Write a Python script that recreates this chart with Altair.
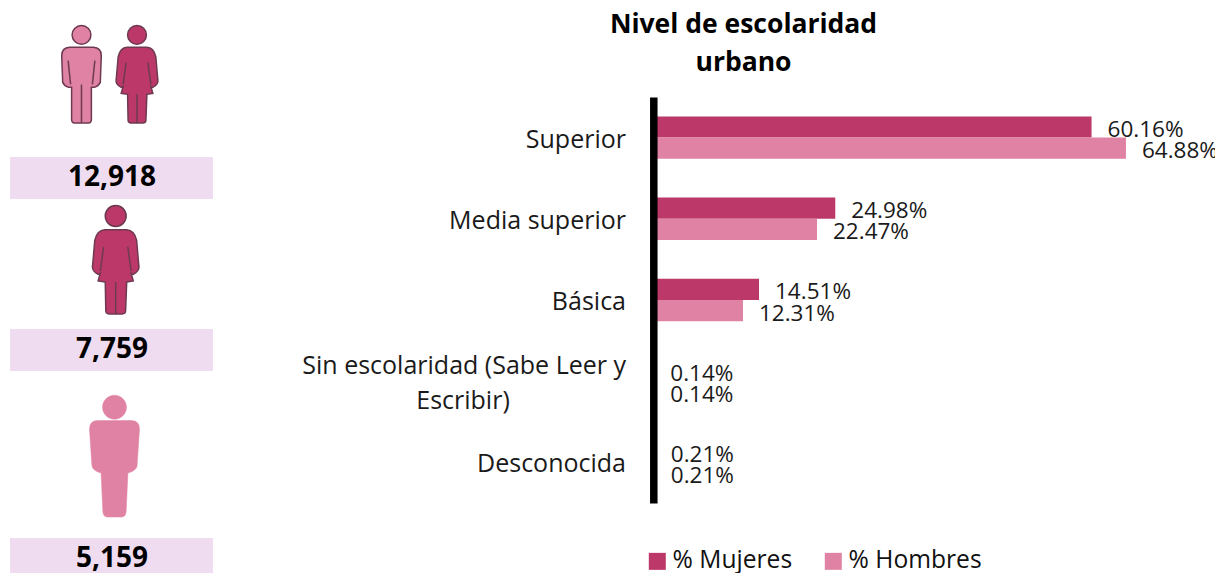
import re
import altair as alt
import pandas as pd

categories = ["Superior", "Media superior", "Básica", "Sin escolaridad (Sabe Leer y Escribir)", "Desconocida"]
mujeres = [60.16, 24.98, 14.51, 0.14, 0.21]
hombres = [64.88, 22.47, 12.31, 0.14, 0.21]
series_names = ["% Mujeres", "% Hombres"]
total_all = 12918
total_mujeres = 7759
total_hombres = 5159

DARK = "#BC3868"
LIGHT = "#E082A3"
BOX = "#F0DCF0"
EDGE = "#6E3A52"
FONT = "Open Sans"

rows = []
for c, m, h in zip(categories, mujeres, hombres):
    rows.append({"cat": c, "serie": series_names[0], "v": m})
    rows.append({"cat": c, "serie": series_names[1], "v": h})
df = pd.DataFrame(rows)

x_scale = alt.Scale(domain=[0, 100], range=[645.3, 1373.8])
y_scale = alt.Scale(domain=categories, range=[89, 495], paddingInner=0, paddingOuter=0)
off_scale = alt.Scale(domain=series_names, paddingInner=0, paddingOuter=0.915)
color_scale = alt.Scale(domain=series_names, range=[DARK, LIGHT])

bars = alt.Chart(df).mark_bar(clip=False).encode(
    x=alt.X("v:Q", scale=x_scale, axis=None),
    y=alt.Y("cat:N", scale=y_scale, sort=categories, title=None,
            axis=alt.Axis(labels=False, ticks=False, grid=False, offset=-645.3, domainColor="#000000",
                          domainWidth=7.5, zindex=1, title=None)),
    yOffset=alt.YOffset("serie:N", scale=off_scale, sort=series_names),
    color=alt.Color("serie:N", scale=color_scale, sort=series_names,
                    legend=alt.Legend(title=None, orient="none", legendX=637, legendY=541, direction="horizontal",
                                      symbolType="square", symbolSize=289, symbolStrokeWidth=0,
                                      labelFont=FONT, labelFontSize=24.6, labelColor="#111111",
                                      labelOffset=3, columnPadding=28, labelLimit=200)),
)

values = alt.Chart(df).transform_calculate(t="format(datum.v, '.2f') + '%'").mark_text(
    align="left", baseline="middle", dx=16, dy=3, font=FONT, fontSize=22.5, color="#1A1A1A"
).encode(
    x=alt.X("v:Q", scale=x_scale, axis=None),
    y=alt.Y("cat:N", scale=y_scale, sort=categories),
    yOffset=alt.YOffset("serie:N", scale=off_scale, sort=series_names),
    text="t:N",
)

cat_single = [c for c in categories if "Sin" not in c]
labels = alt.Chart(pd.DataFrame({"cat": cat_single})).mark_text(
    align="right", baseline="middle", dy=2, font=FONT, fontSize=25, color="#1A1A1A"
).encode(x=alt.value(618), y=alt.Y("cat:N", scale=y_scale, sort=categories), text="cat:N")

wrap = pd.DataFrame({"cat": [categories[3]], "a": ["Sin escolaridad (Sabe Leer y"], "b": ["Escribir)"]})
line1 = alt.Chart(wrap).mark_text(
    align="right", baseline="middle", dy=-15, font=FONT, fontSize=25, color="#1A1A1A"
).encode(x=alt.value(618), y=alt.Y("cat:N", scale=y_scale, sort=categories), text="a:N")
line2 = alt.Chart(wrap).mark_text(
    align="center", baseline="middle", dy=20, font=FONT, fontSize=25, color="#1A1A1A"
).encode(x=alt.value(455), y=alt.Y("cat:N", scale=y_scale, sort=categories), text="b:N")


def norm(path):
    return re.sub(r"-?\d+(?:\.\d+)?", lambda m: f"{float(m.group()) / 50 - 1:.4f}", path)


def head(r):
    a = 50 - r
    b = 50 + r
    k = r * 0.55
    return (f"M {a} 10 C {a} {10 - k} {50 - k} {10 - r} 50 {10 - r} "
            f"C {50 + k} {10 - r} {b} {10 - k} {b} 10 "
            f"C {b} {10 + k} {50 + k} {10 + r} 50 {10 + r} "
            f"C {50 - k} {10 + r} {a} {10 + k} {a} 10 Z ")


MAN = norm(head(9.5) +
           "M 38 22.5 L 62 22.5 Q 70 23 70 31 L 69 58 Q 67 62 63 63 L 60 63 L 60 95 Q 60 99 57 99 "
           "L 43 99 Q 40 99 40 95 L 40 63 L 37 63 Q 33 62 31 58 L 30 31 Q 30 23 38 22.5 Z "
           "M 36.5 36 L 39 60 M 63.5 36 L 61 60 M 50 60 L 50 99")
WOMAN = norm(head(9.5) +
             "M 40 22.5 L 60 22.5 Q 67 23 69 32 L 71 55 Q 72 60 66 63 L 64 62 L 66 69 L 60 70 L 59 96 "
             "Q 59 99 56 99 L 44 99 Q 41 99 41 96 L 40.5 70 L 34 69 L 36 62 L 34 63 Q 28 60 29 55 "
             "L 31 32 Q 33 23 40 22.5 Z M 39 38 L 36 60 M 61 38 L 64 60 M 50 70 L 50 99")
MAN_SOLID = norm(head(9.8) +
                 "M 36 21 L 64 21 Q 70.5 21 70.5 28 L 68.5 58 Q 68 62 61 64 L 59.5 96 Q 59 100 56 100 "
                 "L 44 100 Q 41 100 40.5 96 L 39 64 Q 32 62 31.5 58 L 29.5 28 Q 29.5 21 36 21 Z")

one = alt.Data(values=[{"k": 1}])


def icon(path, fill, size, px, py, stroke=EDGE, sw=1.5):
    return alt.Chart(one).mark_point(shape=path, size=size, filled=True, fill=fill, opacity=1,
                                     stroke=stroke, strokeWidth=sw).encode(x=alt.value(px), y=alt.value(py))


def total_box(value, top, bottom, mid):
    rect = alt.Chart(one).mark_rect(color=BOX).encode(
        x=alt.value(2), x2=alt.value(205), y=alt.value(top), y2=alt.value(bottom))
    txt = alt.Chart(alt.Data(values=[{"n": value}])).mark_text(
        font=FONT, fontWeight="bold", fontSize=28, align="center", baseline="middle", color="#000000"
    ).encode(x=alt.value(104), y=alt.value(mid), text=alt.Text("n:Q", format=","))
    return rect + txt


chart = alt.layer(
    icon(MAN, LIGHT, 9801, 73.5, 66.5),
    icon(WOMAN, DARK, 9801, 129, 66.5),
    total_box(total_all, 149, 191, 170),
    icon(WOMAN, DARK, 12100, 107.7, 252),
    total_box(total_mujeres, 321, 363, 342),
    icon(MAN_SOLID, LIGHT, 14884, 106.5, 448, stroke=LIGHT, sw=0.5),
    total_box(total_hombres, 530, 565, 551),
    bars, values, labels, line1, line2,
).properties(
    width=1207, height=565,
    padding=0,
    autosize=alt.AutoSizeParams(type="none"),
    title=alt.TitleParams(text=["Nivel de escolaridad", "urbano"], font=FONT, fontSize=26.5, fontWeight="bold",
                          lineHeight=38, color="#000000", anchor="middle", dx=132, offset=-68),
).configure_view(stroke=None)

chart.save("out.html", embed_options={"renderer": "svg", "actions": False})
